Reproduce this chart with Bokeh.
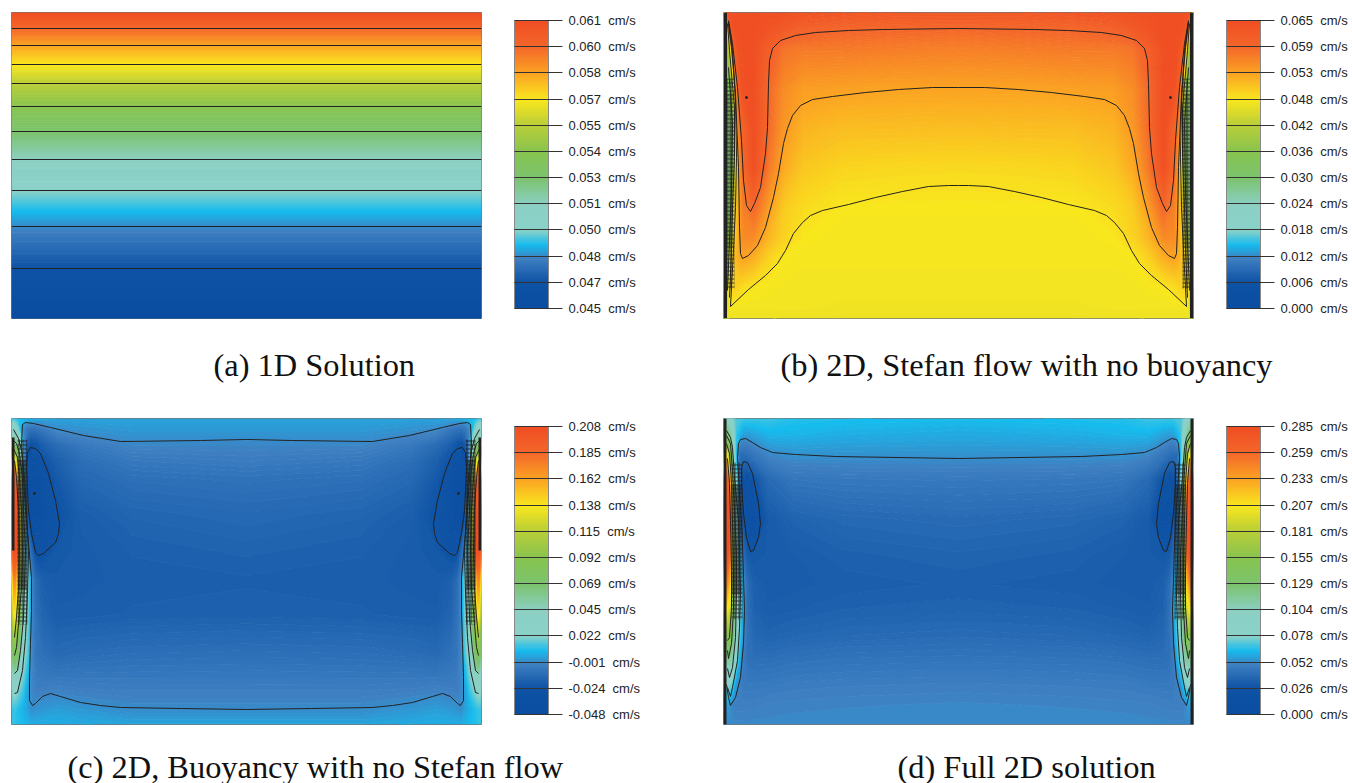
import numpy as np
from bokeh.embed import file_html
from bokeh.layouts import column, row
from bokeh.models import ColorBar, FixedTicker, LinearColorMapper, Range1d, Title
from bokeh.plotting import figure
from bokeh.resources import INLINE

# Shared colour scale (twelve tick levels, 0 = bottom tick, 11 = top tick)
scale_stops = [0, 1, 1.9, 2.42, 2.97, 3.96, 4.95, 5.94, 7.0, 7.97, 8.97, 9.99, 11]
scale_colors = ["#0a4da1", "#0e53a5", "#3f80c2", "#15bcee", "#8ad1c9", "#8cd0c4", "#7cc36f",
                "#86c450", "#b9ce38", "#f9e71e", "#fba522", "#f4682a", "#f04e23"]

# Colour-bar tick labels
ticks_a = ["0.045", "0.047", "0.048", "0.050", "0.051", "0.053", "0.054", "0.055", "0.057", "0.058", "0.060", "0.061"]
ticks_b = ["0.000", "0.006", "0.012", "0.018", "0.024", "0.030", "0.036", "0.042", "0.048", "0.053", "0.059", "0.065"]
ticks_c = ["-0.048", "-0.024", "-0.001", "0.022", "0.045", "0.069", "0.092", "0.115", "0.138", "0.162", "0.185", "0.208"]
ticks_d = ["0.000", "0.026", "0.052", "0.078", "0.104", "0.129", "0.155", "0.181", "0.207", "0.233", "0.259", "0.285"]

captions = ["(a) 1D Solution", "(b) 2D, Stefan flow with no buoyancy",
            "(c) 2D, Buoyancy with no Stefan flow", "(d) Full 2D solution"]

# Fields, in colour-scale levels. Rows run top to bottom,
# columns from the left wall to the mid-plane (the picture is mirror-symmetric).
field_a_x = [0, 235]
field_a_y = [306, 290, 273, 254, 235, 212, 187, 159, 128, 92, 50, 0]
field_a = [[11, 11], [10, 10], [9, 9], [8, 8], [7, 7], [6, 6], [5, 5], [4, 4], [3, 3], [2, 2], [1, 1], [0, 0]]
lines_a_y = [290, 273, 254, 235, 212, 187, 159, 128, 92, 50]

field_b_x = [0, 3, 6, 9, 12, 16, 20, 30, 45, 60, 80, 120, 170, 235]
field_b_y = [306, 290, 270, 230, 190, 150, 110, 80, 60, 30, 10, 0]
field_b = [
    [3.0, 10.5, 10.9, 11.0, 11.0, 11.0, 11.0, 11.0, 10.9, 10.9, 10.8, 10.7, 10.6, 10.6],
    [3.0, 7.0, 10.0, 10.8, 11.0, 11.0, 11.0, 11.0, 10.8, 10.6, 10.3, 10.1, 10.05, 10.0],
    [3.0, 5.0, 7.0, 9.5, 10.4, 10.9, 11.0, 11.0, 10.4, 9.8, 9.7, 9.7, 9.65, 9.6],
    [3.0, 4.0, 5.5, 6.5, 9.0, 10.4, 10.9, 11.0, 10.0, 9.4, 9.1, 9.05, 9.0, 9.0],
    [3.0, 3.5, 5.0, 6.0, 7.8, 9.7, 10.2, 11.0, 9.95, 9.2, 8.75, 8.6, 8.6, 8.58],
    [3.0, 3.5, 5.0, 5.8, 7.5, 9.2, 10.0, 10.9, 9.7, 8.9, 8.45, 8.25, 8.2, 8.17],
    [3.0, 3.5, 5.5, 7.0, 8.2, 9.0, 9.6, 10.0, 9.1, 8.4, 8.15, 7.96, 7.96, 7.96],
    [3.0, 4.0, 6.0, 7.8, 8.3, 9.0, 9.4, 9.4, 8.7, 8.3, 7.97, 7.92, 7.92, 7.92],
    [3.0, 5.0, 7.0, 8.2, 8.6, 8.9, 9.0, 8.8, 8.3, 7.97, 7.91, 7.91, 7.91, 7.91],
    [4.0, 6.0, 8.0, 8.3, 8.3, 8.2, 8.1, 7.97, 7.92, 7.88, 7.88, 7.88, 7.88, 7.88],
    [5.0, 7.0, 7.9, 7.86, 7.86, 7.86, 7.86, 7.86, 7.86, 7.86, 7.86, 7.83, 7.83, 7.83],
    [6.0, 7.6, 7.81, 7.81, 7.81, 7.81, 7.81, 7.81, 7.81, 7.78, 7.78, 7.78, 7.78, 7.78],
]
paths_b = [
    [(5, 298), (9, 275), (14, 231), (18, 178), (20, 138), (23, 113), (27, 107), (31, 115), (37, 131), (42, 165),
     (44, 191), (45, 235), (46, 258), (49, 270), (57, 278), (72, 283), (92, 286), (125, 288), (159, 289), (235, 290)],
    [(5, 295), (8, 271), (12, 225), (15, 151), (16, 91), (17, 65), (19, 60), (25, 63), (34, 73), (42, 91), (50, 121),
     (55, 145), (60, 175), (64, 190), (69, 203), (77, 213), (89, 219), (109, 222), (142, 226), (175, 229), (209, 231), (235, 231)],
    [(5, 297), (9, 268), (12, 218), (13, 161), (12, 111), (10, 68), (8, 31), (7, 12), (25, 29), (42, 43), (54, 55),
     (62, 68), (70, 85), (79, 96), (87, 103), (99, 108), (125, 114), (152, 121), (179, 127), (205, 132), (225, 133), (235, 133)],
    [(4, 295), (6, 268), (11, 211), (11, 161), (9, 111), (8, 68), (6, 21)],
    [(5, 251), (9, 195), (8, 128), (6, 78), (4, 28)],
]
wall_b = [0, 3.5, 0, 306]
mesh_b = [3.5, 11, 30, 240]
shade_b = [3.5, 10, 70, 225]
dots_b = [(23, 221)]

field_c_x = [0, 3, 6, 9, 12, 16, 20, 24, 30, 45, 70, 120, 235]
field_c_y = [306, 295, 280, 265, 245, 210, 175, 145, 110, 70, 35, 15, 0]
field_c = [
    [2.6, 2.6, 2.5, 2.45, 2.4, 2.35, 2.3, 2.3, 2.25, 2.2, 2.2, 2.2, 2.2],
    [3.5, 3.5, 3.0, 2.4, 1.96, 1.7, 1.6, 1.6, 1.7, 2.0, 2.06, 2.12, 2.12],
    [4.0, 5.0, 4.5, 3.5, 2.0, 1.2, 0.9, 1.0, 1.2, 1.5, 1.76, 1.96, 1.96],
    [7.0, 8.0, 6.0, 4.0, 2.1, 0.9, 0.6, 0.7, 0.98, 1.26, 1.56, 1.76, 1.82],
    [9.0, 10.5, 9.0, 5.0, 2.5, 0.9, 0.5, 0.5, 0.6, 1.1, 1.42, 1.56, 1.62],
    [10.0, 11.0, 11.0, 6.5, 3.0, 1.0, 0.4, 0.35, 0.4, 0.96, 1.22, 1.36, 1.44],
    [9.5, 11.0, 10.5, 6.0, 3.0, 2.0, 1.4, 0.9, 0.85, 1.1, 1.18, 1.26, 1.32],
    [7.0, 9.5, 8.0, 5.0, 3.2, 3.0, 2.0, 1.5, 1.26, 1.16, 1.18, 1.22, 1.24],
    [6.0, 8.0, 7.0, 5.0, 3.5, 2.9, 2.0, 1.6, 1.36, 1.21, 1.22, 1.26, 1.28],
    [4.5, 5.5, 5.0, 4.0, 3.2, 2.7, 2.0, 1.7, 1.6, 1.46, 1.52, 1.56, 1.58],
    [3.0, 3.2, 3.0, 2.8, 2.6, 2.2, 1.96, 1.86, 1.86, 1.9, 1.86, 1.84, 1.84],
    [2.6, 2.6, 2.5, 2.4, 2.3, 2.2, 2.0, 2.06, 2.1, 2.16, 2.1, 2.0, 2.0],
    [2.6, 2.55, 2.5, 2.45, 2.4, 2.35, 2.3, 2.3, 2.3, 2.3, 2.26, 2.22, 2.22],
]
paths_c = [
    [(235, 285), (189, 284), (109, 283), (72, 289), (39, 297), (22, 301), (14, 302), (11, 300), (10, 281), (12, 247),
     (14, 214), (17, 181), (20, 147), (20, 114), (19, 81), (18, 47), (18, 24), (21, 19), (24, 21), (31, 28), (39, 31),
     (49, 28), (69, 22), (89, 19), (109, 17), (170, 16), (235, 15)],
    [(19, 277), (16, 272), (15, 257), (16, 234), (17, 214), (20, 191), (24, 172), (27, 169), (32, 171), (44, 182),
     (47, 191), (48, 201), (44, 224), (37, 251), (29, 271), (24, 276), (19, 277)],
    [(2, 295), (7, 286), (10, 274), (13, 247), (15, 214), (17, 174), (16, 131), (14, 87), (11, 54), (6, 32), (3, 31)],
    [(2, 284), (5, 281), (8, 271), (11, 247), (12, 214), (14, 174), (13, 141), (12, 107), (9, 74), (6, 54), (3, 51)],
    [(2, 276), (6, 267), (8, 247), (10, 214), (11, 174), (10, 137), (7, 101), (5, 77), (3, 69)],
    [(3, 264), (5, 247), (7, 214), (8, 174), (7, 137), (5, 107), (3, 87)],
]
wall_c = [0.5, 3, 174, 287]
mesh_c = [6, 16, 100, 285]
shade_c = [6, 15, 135, 265]
dots_c = [(23, 231)]

field_d_x = [0, 3, 6, 9, 12, 16, 20, 24, 30, 45, 70, 120, 235]
field_d_y = [306, 290, 270, 245, 205, 170, 140, 115, 90, 65, 40, 20, 0]
field_d = [
    [4.0, 4.0, 3.5, 3.0, 2.7, 2.7, 2.6, 2.6, 2.6, 2.6, 2.5, 2.46, 2.42],
    [5.0, 5.0, 4.5, 3.5, 2.6, 2.4, 2.16, 2.16, 2.2, 2.36, 2.36, 2.3, 2.26],
    [6.0, 8.0, 6.0, 4.0, 2.5, 1.5, 1.5, 1.56, 1.7, 1.96, 2.06, 2.06, 2.06],
    [9.0, 10.5, 9.0, 5.5, 3.0, 1.4, 0.9, 0.86, 1.0, 1.46, 1.7, 1.74, 1.76],
    [10.0, 11.0, 10.8, 6.5, 3.2, 1.5, 1.0, 0.6, 0.6, 1.16, 1.32, 1.42, 1.48],
    [9.5, 11.0, 10.0, 6.0, 3.5, 2.4, 1.5, 1.16, 1.1, 1.16, 1.2, 1.28, 1.34],
    [8.0, 9.5, 8.5, 5.5, 3.5, 2.7, 2.06, 1.5, 1.26, 1.16, 1.18, 1.22, 1.26],
    [7.0, 8.0, 7.5, 5.5, 3.7, 2.8, 2.0, 1.56, 1.3, 1.21, 1.24, 1.3, 1.33],
    [5.5, 6.0, 6.0, 5.0, 3.5, 2.7, 1.96, 1.6, 1.4, 1.32, 1.38, 1.44, 1.48],
    [4.0, 4.5, 4.5, 4.0, 3.1, 2.3, 1.76, 1.6, 1.56, 1.56, 1.62, 1.66, 1.68],
    [2.8, 3.0, 3.0, 2.7, 2.16, 1.9, 1.76, 1.76, 1.76, 1.78, 1.82, 1.84, 1.86],
    [2.0, 2.2, 2.1, 1.9, 1.86, 1.86, 1.86, 1.88, 1.88, 1.91, 1.92, 1.94, 1.96],
    [1.86, 1.96, 1.97, 1.97, 1.97, 1.97, 1.97, 1.97, 1.97, 1.97, 1.99, 1.99, 1.99],
]
paths_d = [
    [(235, 266), (112, 268), (72, 270), (49, 272), (37, 277), (29, 282), (22, 286), (17, 285), (15, 281), (14, 267),
     (16, 231), (18, 204), (19, 181), (20, 147), (21, 114), (20, 81), (17, 47), (12, 27), (7, 19), (5, 27), (3, 40)],
    [(20, 263), (18, 257), (18, 241), (20, 211), (23, 187), (27, 173), (30, 174), (35, 187), (37, 201), (35, 221),
     (29, 251), (24, 262), (20, 263)],
    [(3, 294), (7, 287), (9, 277), (11, 247), (15, 204), (16, 164), (17, 131), (16, 97), (14, 64), (9, 37), (7, 28), (4, 37)],
    [(3, 289), (7, 281), (9, 254), (11, 214), (13, 171), (13, 131), (12, 87), (9, 57), (6, 47), (4, 56)],
    [(3, 281), (6, 271), (8, 241), (9, 201), (10, 157), (10, 114), (8, 81), (5, 66), (4, 74)],
    [(4, 266), (6, 241), (7, 204), (8, 154), (8, 117), (6, 87), (4, 84)],
]
wall_d = [0, 3, 0, 306]
mesh_d = [8, 19, 105, 262]
shade_d = [8, 18, 130, 240]
dots_d = []

# Shading: one fine colour per twentieth of a scale level
rgb = np.array([[int(c[i:i + 2], 16) for i in (1, 3, 5)] for c in scale_colors], dtype=float)


def shade(v):
    return "#%02x%02x%02x" % tuple(int(round(float(np.interp(v, scale_stops, rgb[:, k])))) for k in range(3))


fine_levels = [i / 20 for i in range(221)]
fine_palette = [shade((fine_levels[i] + fine_levels[i + 1]) / 2) for i in range(220)]
seam_palette = [shade(v) for v in fine_levels]
mapper = LinearColorMapper(palette=[shade(i * 11 / 255) for i in range(256)], low=0, high=11)


def panel(width, height, left, top, bottom, right, fx, fy, field, ticks, caption, cap_offset, cap_standoff, bar_y,
          paths=(), wall=None, mesh=None, dark=None, dots=(), mesh_fill=0.0):
    p = figure(width=width, height=height, frame_width=470, frame_height=306,
               x_range=Range1d(0, 470), y_range=Range1d(0, 306),
               x_axis_type=None, y_axis_type=None, toolbar_location=None, output_backend="svg",
               min_border_left=left, min_border_right=right, min_border_top=top, min_border_bottom=bottom,
               outline_line_color="#777777", outline_line_width=1, background_fill_color=None,
               border_fill_color=None)
    p.grid.visible = False
    xs = list(fx) + [470 - x for x in reversed(fx[:-1])]
    ys = list(reversed(fy))
    zz = [list(r) + list(reversed(r[:-1])) for r in reversed(field)]
    p.contour(xs, ys, np.array(zz, dtype=float), fine_levels, fill_color=fine_palette,
              line_color=seam_palette, line_width=1.2)

    for box in ([wall] if wall else []):
        l, r, b, t = box
        p.quad(left=[l, 470 - r], right=[r, 470 - l], bottom=[b, b], top=[t, t], fill_color="#222222", line_color=None)
    for box in ([dark] if dark else []):
        l, r, b, t = box
        p.quad(left=[l, 470 - r], right=[r, 470 - l], bottom=[b, b], top=[t, t], fill_color="#222222",
               fill_alpha=mesh_fill, line_color=None)
    for box in ([mesh] if mesh else []):
        l, r, b, t = box
        p.quad(left=[l, 470 - r], right=[r, 470 - l], bottom=[b, b], top=[t, t], fill_alpha=0, line_color=None,
               hatch_pattern="cross", hatch_scale=4, hatch_weight=1, hatch_color="#1a1a1a", hatch_alpha=0.8)
    if paths:
        line_x = [[pt[0] for pt in path] for path in paths] + [[470 - pt[0] for pt in path] for path in paths]
        line_y = [[pt[1] for pt in path] for path in paths] * 2
        p.multi_line(line_x, line_y, line_color="#222222", line_width=1)
    if dots:
        p.scatter([d[0] for d in dots] + [470 - d[0] for d in dots], [d[1] for d in dots] * 2,
                  size=2, color="#222222")

    bar = ColorBar(color_mapper=mapper, ticker=FixedTicker(ticks=list(range(12))),
                   major_label_overrides={i: t + "\u00a0\u00a0cm/s" for i, t in enumerate(ticks)},
                   location=(503, bar_y), width=34, height=288, padding=0, margin=0,
                   bar_line_color="#888888", bar_line_width=1, major_tick_in=34, major_tick_out=14,
                   major_tick_line_color="#333333", minor_tick_line_color=None, label_standoff=6,
                   major_label_text_font="Liberation Sans", major_label_text_font_size="13px",
                   major_label_text_color="#222222", background_fill_color=None, border_line_color=None)
    p.add_layout(bar, "center")
    p.add_layout(Title(text=caption, align="left", offset=cap_offset, standoff=cap_standoff,
                       text_font="Liberation Serif", text_font_size="32.4px", text_font_style="normal",
                       text_color="#111111"), "below")
    return p


p_a = panel(720, 414, 11, 12, 96, 239, field_a_x, field_a_y, field_a, ticks_a, captions[0], 202, 52, 10)
p_a.multi_line([[0, 470]] * len(lines_a_y), [[y, y] for y in lines_a_y], line_color="#222222", line_width=1)
p_b = panel(632, 414, 3, 12, 96, 159, field_b_x, field_b_y, field_b, ticks_b, captions[1], 57, 52, 10,
            paths_b, wall_b, mesh_b, shade_b, dots_b, 0.25)
p_c = panel(720, 369, 11, 4, 59, 239, field_c_x, field_c_y, field_c, ticks_c, captions[2], 56, 45, 10,
            paths_c, wall_c, mesh_c, shade_c, dots_c, 0.5)
p_d = panel(632, 369, 3, 4, 59, 159, field_d_x, field_d_y, field_d, ticks_d, captions[3], 174, 45, 10,
            paths_d, wall_d, mesh_d, shade_d, dots_d, 0.5)

page = column(row(p_a, p_b), row(p_c, p_d))
open("out.html", "w").write(file_html(page, INLINE))
